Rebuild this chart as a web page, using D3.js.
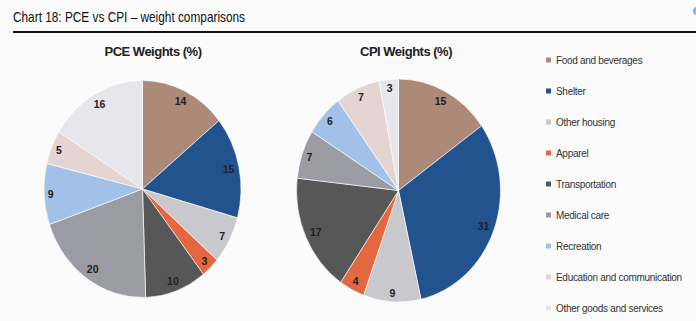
<!DOCTYPE html>
<html>
<head>
<meta charset="utf-8">
<script src="https://cdn.jsdelivr.net/npm/d3@7"></script>
<style>
  html, body { margin: 0; padding: 0; background: #fbfbfb; }
  svg { display: block; }
</style>
</head>
<body>
<svg id="chart" width="696" height="321"></svg>
<script>
const categories = ["Food and beverages", "Shelter", "Other housing", "Apparel", "Transportation",
  "Medical care", "Recreation", "Education and communication", "Other goods and services"];
const pceValues = [14, 15, 7, 3, 10, 20, 9, 5, 16];
const cpiValues = [15, 31, 9, 4, 17, 7, 6, 7, 3];
const colors = ["#ad8977", "#22538f", "#c9c9cd", "#e4673f", "#575757", "#9b9ba3", "#a1c1e8", "#e4d5d2", "#e7e7eb"];
const chartTitle = "Chart 18: PCE vs CPI \u2013 weight comparisons";
const pieTitles = ["PCE Weights (%)", "CPI Weights (%)"];

const svg = d3.select("#chart");

// Title and rule
svg.append("text").attr("x", 13).attr("y", 21.5)
  .attr("font-family", "Liberation Sans, Arial, sans-serif")
  .attr("font-size", 14.5).attr("fill", "#111")
  .attr("textLength", 232).attr("lengthAdjust", "spacingAndGlyphs")
  .text(chartTitle);
svg.append("line").attr("x1", 13).attr("x2", 696).attr("y1", 32).attr("y2", 32)
  .attr("stroke", "#111").attr("stroke-width", 2);
svg.append("circle").attr("cx", 697).attr("cy", 11).attr("r", 4).attr("fill", "#8fb3d9");

const color = d3.scaleOrdinal().domain(categories).range(colors);

const pies = [
  { values: pceValues, title: pieTitles[0], cx: 142.5, cy: 189, rx: 98.5, ry: 108.5, tx: 153 },
  { values: cpiValues, title: pieTitles[1], cx: 398.5, cy: 190.5, rx: 102, ry: 111.5, tx: 406 }
];

const pieGen = d3.pie().sort(null).value(d => d.value);

pies.forEach(p => {
  const data = categories.map((c, i) => ({ cat: c, value: p.values[i] }));
  const arcs = pieGen(data);
  const arc = d3.arc().innerRadius(0).outerRadius(p.rx);
  const sy = p.ry / p.rx;

  const g = svg.append("g")
    .attr("transform", `translate(${p.cx},${p.cy}) scale(1,${sy})`);
  g.selectAll("path").data(arcs).join("path")
    .attr("d", arc)
    .attr("fill", d => color(d.data.cat))
    .attr("stroke", "#ffffff").attr("stroke-width", 0.6);

  // labels (inside end)
  const lg = svg.append("g").attr("transform", `translate(${p.cx},${p.cy})`);
  arcs.forEach(a => {
    const mid = (a.startAngle + a.endAngle) / 2;
    const ux = Math.sin(mid), uy = -Math.cos(mid);
    const txt = String(a.data.value);
    const halfW = txt.length * 3.4, halfH = 4.5;
    const dd = 3 + Math.abs(ux) * halfW + Math.abs(uy) * halfH;
    const r = p.rx - dd;
    lg.append("text")
      .attr("x", ux * r).attr("y", uy * r * sy)
      .attr("text-anchor", "middle").attr("dominant-baseline", "central")
      .attr("font-family", "Liberation Sans, Arial, sans-serif")
      .attr("font-weight", "bold").attr("font-size", 10.5).attr("fill", "#222")
      .text(txt);
  });

  svg.append("text").attr("x", p.tx).attr("y", 56)
    .attr("text-anchor", "middle")
    .attr("font-family", "Liberation Sans, Arial, sans-serif")
    .attr("font-weight", "bold").attr("font-size", 13).attr("letter-spacing", -0.5)
    .attr("fill", "#222").text(p.title);
});

// Legend
const ly = d3.scalePoint().domain(categories).range([60, 308]);
const lgd = svg.append("g");
categories.forEach(c => {
  lgd.append("rect").attr("x", 546).attr("y", ly(c) - 2.5).attr("width", 5).attr("height", 5)
    .attr("fill", color(c));
  lgd.append("text").attr("x", 556).attr("y", ly(c))
    .attr("dominant-baseline", "central")
    .attr("font-family", "Liberation Sans, Arial, sans-serif")
    .attr("font-size", 10).attr("letter-spacing", -0.3).attr("fill", "#333")
    .text(c);
});
</script>
</body>
</html>
